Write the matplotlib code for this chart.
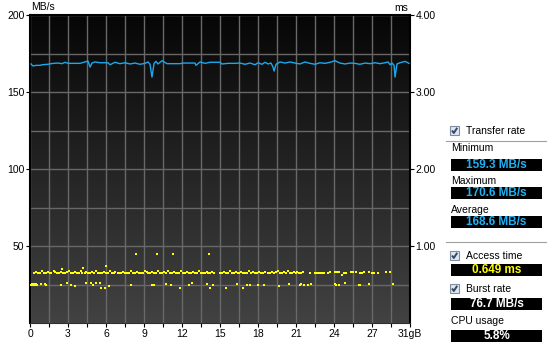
import matplotlib.pyplot as plt
from matplotlib.patches import Rectangle
import numpy as np

plt.rcParams['font.family'] = ['Liberation Sans', 'DejaVu Sans']

# ---------------- Data ----------------

# transfer rate curve: (position in GB, MB/s)
transfer = [
    (0.08, 168.2), (0.24, 166.9), (0.49, 167.3), (0.82, 167.3), (0.98, 167.7),
    (1.47, 168.0), (1.79, 168.5), (2.28, 168.8), (2.61, 168.4), (2.86, 169.3),
    (3.10, 168.6), (3.43, 168.6), (4.08, 168.6), (4.73, 170.1), (4.90, 166.2),
    (5.06, 168.8), (5.30, 169.5), (5.71, 169.0), (6.36, 169.0), (6.53, 167.7),
    (6.93, 169.3), (7.34, 168.4), (7.75, 169.0), (8.16, 168.2), (8.57, 168.8),
    (8.97, 168.0), (9.38, 168.6), (9.63, 169.5), (9.79, 168.0), (9.95, 159.7),
    (10.12, 168.6), (10.28, 169.9), (10.44, 168.2), (10.77, 170.3), (11.18, 168.4),
    (11.58, 168.4), (12.24, 168.4), (12.48, 168.8), (13.05, 168.8), (13.46, 168.8),
    (13.54, 167.3), (13.87, 169.5), (14.28, 168.6), (14.68, 169.3), (15.09, 169.3),
    (15.50, 169.3), (15.66, 168.2), (16.15, 168.6), (16.72, 168.6), (17.13, 168.8),
    (17.54, 168.0), (17.95, 168.8), (18.36, 167.7), (18.60, 169.0), (18.93, 168.0),
    (19.17, 169.3), (19.42, 168.2), (19.66, 168.8), (19.82, 166.2), (19.91, 163.6),
    (20.07, 168.0), (20.40, 169.5), (20.80, 168.8), (21.21, 169.5), (21.62, 168.8),
    (22.03, 168.2), (22.43, 169.5), (22.84, 168.6), (23.25, 168.0), (23.66, 169.0),
    (24.07, 168.6), (24.47, 169.3), (24.88, 170.3), (25.29, 168.8), (25.70, 168.2),
    (26.11, 168.8), (26.51, 168.6), (26.92, 168.0), (27.33, 168.8), (27.74, 168.4),
    (28.15, 169.0), (28.55, 168.4), (28.96, 169.0), (29.21, 169.5), (29.37, 167.7),
    (29.53, 168.8), (29.70, 167.3), (29.78, 159.7), (29.94, 168.2), (30.19, 169.0),
    (30.60, 169.9), (30.92, 168.6),
]

# access time, dense band (GB, ms)
access_band = [
    (0.33, 0.655), (0.49, 0.665), (0.62, 0.655), (0.80, 0.655), (0.95, 0.670),
    (1.12, 0.655), (1.27, 0.655), (1.43, 0.665), (1.60, 0.655), (1.74, 0.655),
    (1.92, 0.670), (2.06, 0.660), (2.22, 0.655), (2.39, 0.655), (2.53, 0.665),
    (2.70, 0.655), (2.86, 0.655), (3.01, 0.660), (3.18, 0.670), (3.33, 0.655),
    (3.50, 0.655), (3.64, 0.665), (3.81, 0.655), (3.97, 0.655), (4.12, 0.670),
    (4.28, 0.655), (4.45, 0.655), (4.60, 0.665), (4.76, 0.655), (4.92, 0.655),
    (5.07, 0.660), (5.24, 0.655), (5.39, 0.670), (5.55, 0.655), (5.71, 0.655),
    (5.87, 0.655), (6.03, 0.665), (6.18, 0.655), (6.35, 0.655), (6.50, 0.670),
    (6.66, 0.655), (6.82, 0.655), (6.97, 0.660), (7.14, 0.655), (7.29, 0.655),
    (7.45, 0.655), (7.61, 0.665), (7.76, 0.655), (7.93, 0.655), (8.08, 0.655),
    (8.24, 0.670), (8.40, 0.655), (8.56, 0.655), (8.72, 0.665), (8.87, 0.655),
    (9.03, 0.655), (9.19, 0.655), (9.35, 0.670), (9.51, 0.660), (9.66, 0.655),
    (9.82, 0.655), (9.98, 0.665), (10.14, 0.655), (10.30, 0.655), (10.45, 0.670),
    (10.61, 0.655), (10.77, 0.655), (10.93, 0.660), (11.09, 0.655), (11.24, 0.670),
    (11.40, 0.655), (11.56, 0.655), (11.72, 0.665), (11.88, 0.655), (12.03, 0.655),
    (12.19, 0.655), (12.35, 0.670), (12.51, 0.655), (12.67, 0.655), (12.82, 0.660),
    (12.98, 0.655), (13.14, 0.655), (13.30, 0.665), (13.46, 0.655), (13.61, 0.655),
    (13.77, 0.670), (13.93, 0.655), (14.09, 0.655), (14.25, 0.655), (14.40, 0.665),
    (14.56, 0.655), (14.72, 0.655), (14.88, 0.660), (15.04, 0.655), (15.50, 0.655),
    (15.66, 0.655), (15.82, 0.665), (15.98, 0.655), (16.14, 0.655), (16.29, 0.670),
    (16.45, 0.655), (16.61, 0.655), (16.77, 0.660), (16.93, 0.655), (17.08, 0.655),
    (17.24, 0.665), (17.40, 0.655), (17.56, 0.655), (17.72, 0.655), (17.87, 0.670),
    (18.03, 0.655), (18.19, 0.660), (18.35, 0.655), (18.51, 0.655), (18.66, 0.665),
    (18.82, 0.655), (18.98, 0.655), (19.14, 0.660), (19.45, 0.655), (19.61, 0.655),
    (19.77, 0.665), (19.93, 0.655), (20.09, 0.660), (20.24, 0.670), (20.40, 0.655),
    (20.56, 0.655), (20.72, 0.665), (20.88, 0.655), (21.03, 0.670), (21.19, 0.655),
    (21.35, 0.655), (21.51, 0.660), (21.67, 0.655), (21.82, 0.665), (21.98, 0.655),
    (22.14, 0.655), (22.30, 0.660),
]

# access time, sparse upper dots after 22 GB and high outliers (GB, ms)
access_upper = [
    (22.84, 0.645), (23.25, 0.645), (23.39, 0.645), (23.58, 0.655), (23.70, 0.655),
    (23.82, 0.655), (23.98, 0.655), (24.31, 0.645), (24.47, 0.660), (24.88, 0.660),
    (25.05, 0.660), (25.21, 0.660), (25.48, 0.625), (25.62, 0.655), (25.75, 0.645),
    (26.16, 0.665), (26.33, 0.660), (26.60, 0.660), (26.92, 0.645), (27.00, 0.645),
    (27.11, 0.645), (27.27, 0.660), (27.68, 0.660), (27.92, 0.655), (28.09, 0.645),
    (28.41, 0.645), (29.04, 0.660), (29.37, 0.660),
    (2.61, 0.70), (4.35, 0.71), (6.16, 0.74), (8.65, 0.89), (10.40, 0.89),
    (11.67, 0.89), (14.63, 0.89),
]

# access time, lower row around 0.5 ms (GB, ms)
access_lower = [
    (0.08, 0.50), (0.16, 0.50), (0.24, 0.50), (0.33, 0.50), (0.41, 0.50),
    (0.49, 0.50), (0.57, 0.50), (0.16, 0.51), (0.33, 0.51), (0.49, 0.51),
    (0.87, 0.51), (1.20, 0.51), (1.33, 0.49), (2.55, 0.49), (3.04, 0.515),
    (3.32, 0.49), (3.65, 0.48), (4.59, 0.515), (5.00, 0.515), (5.14, 0.50),
    (5.41, 0.515), (5.69, 0.515), (5.77, 0.46), (6.14, 0.46), (6.44, 0.48),
    (8.26, 0.50), (9.95, 0.50), (10.12, 0.50), (11.09, 0.51), (11.50, 0.50),
    (12.24, 0.46), (13.00, 0.50), (13.19, 0.515), (14.42, 0.51), (14.68, 0.46),
    (14.95, 0.50), (15.99, 0.46), (16.91, 0.51), (17.40, 0.46), (17.73, 0.50),
    (17.95, 0.50), (18.62, 0.50), (19.09, 0.50), (20.34, 0.48), (21.15, 0.51),
    (22.03, 0.50), (22.11, 0.51), (22.38, 0.50), (22.65, 0.50), (22.92, 0.51),
    (24.88, 0.51), (24.96, 0.50), (25.21, 0.50), (25.70, 0.52), (26.84, 0.50),
    (26.92, 0.50), (27.68, 0.51), (29.64, 0.51),
]

x_labels = ["0", "3", "6", "9", "12", "15", "18", "21", "24", "27", "31gB"]
mb_labels = ["50", "100", "150", "200"]
ms_labels = ["1.00", "2.00", "3.00", "4.00"]

panel_values = {
    "Minimum": "159.3 MB/s",
    "Maximum": "170.6 MB/s",
    "Average": "168.6 MB/s",
}
access_value = "0.649 ms"
burst_value = "76.7 MB/s"
cpu_value = "5.8%"

# ---------------- Figure ----------------

W, H = 548, 349
fig = plt.figure(figsize=(W / 100, H / 100), dpi=100)
fig.patch.set_facecolor("white")

ax = fig.add_axes([30 / W, 1 - 323 / H, 380 / W, 308 / H])
ax.set_xlim(0, 31)
ax.set_ylim(0, 200)

# dark gradient background, grey at the bottom, near black at the top
shade = np.linspace(0x42, 0x06, 256) / 255
grad = np.repeat(shade.reshape(-1, 1, 1), 3, axis=2)
ax.imshow(grad, extent=[0, 31, 0, 200], aspect="auto", origin="lower",
          interpolation="bilinear", zorder=0)

step = 31 / 20
ax.set_xticks([i * step * 2 for i in range(11)])
ax.set_xticklabels(x_labels)
ax.set_xticks([i * step * 2 + step for i in range(10)], minor=True)
ax.set_yticks([50, 100, 150, 200])
ax.set_yticklabels(mb_labels)
ax.set_yticks([25, 75, 125, 175], minor=True)
ax.set_axisbelow(True)
ax.grid(which="both", color="#686868", lw=1)
ax.tick_params(which="both", length=3, width=0.8, labelsize=7.5, pad=1,
               colors="black")
ax.tick_params(axis="y", which="minor", length=0)

tx, ty = zip(*transfer)
ax.plot(tx, ty, color="#1aa8ee", lw=1.0, zorder=3)

for side in ["left", "top", "right"]:
    ax.spines[side].set_color("black")
    ax.spines[side].set_linewidth(1.5)
ax.spines["bottom"].set_color("#303030")

ax2 = ax.twinx()
ax2.set_ylim(0, 4)
ax2.set_yticks([1, 2, 3, 4])
ax2.set_yticklabels(ms_labels)
ax2.tick_params(length=3, width=0.8, labelsize=7.5, pad=1, colors="black")
for pts in [access_band, access_upper, access_lower]:
    gx, gy = zip(*pts)
    ax2.scatter(gx, gy, s=1.8, marker="s", color="#ffff00", linewidths=0,
                zorder=3)
for side in ["left", "top", "right", "bottom"]:
    ax2.spines[side].set_visible(False)

# ---------------- Overlay for labels and the side panel ----------------

ov = fig.add_axes([0, 0, 1, 1])
ov.set_xlim(0, W)
ov.set_ylim(H, 0)
ov.axis("off")
ov.patch.set_visible(False)

ov.text(31, 7, "MB/s", fontsize=7.5, va="center", ha="left")
ov.text(408, 8, "ms", fontsize=7.5, va="center", ha="right")


def checkbox(x, y, label):
    ov.add_patch(Rectangle((x, y), 9, 9, facecolor="#dfe6ee",
                           edgecolor="#7d8ea0", lw=0.8))
    ov.plot([x + 2, x + 3.8, x + 7.2], [y + 4.5, y + 7, y + 1.8],
            color="#33476a", lw=1.4, solid_capstyle="butt")
    ov.text(x + 16, y + 4.7, label, fontsize=7.5, va="center", ha="left")


def value_box(y, text, color):
    ov.add_patch(Rectangle((451, y), 91, 12, facecolor="black",
                           edgecolor="none"))
    ov.text(496.5, y + 6.3, text, fontsize=8.5, fontweight="bold",
            color=color, va="center", ha="center")


checkbox(450, 126, "Transfer rate")
ov.plot([446, 546], [141, 141], color="#a0a0a0", lw=0.8)

label_y = [148, 181, 210]
box_y = [159, 187, 216]
for (name, val), ly, by in zip(panel_values.items(), label_y, box_y):
    ov.text(451, ly, name, fontsize=7.5, va="center", ha="left")
    value_box(by, val, "#1eb2f5")

ov.plot([446, 546], [242, 242], color="#a0a0a0", lw=0.8)
checkbox(450, 251, "Access time")
value_box(264, access_value, "#ffff00")
checkbox(450, 284, "Burst rate")
value_box(298, burst_value, "white")
ov.text(451, 321, "CPU usage", fontsize=7.5, va="center", ha="left")
value_box(330, cpu_value, "white")

fig.savefig("out.png", dpi=100, facecolor="white")
